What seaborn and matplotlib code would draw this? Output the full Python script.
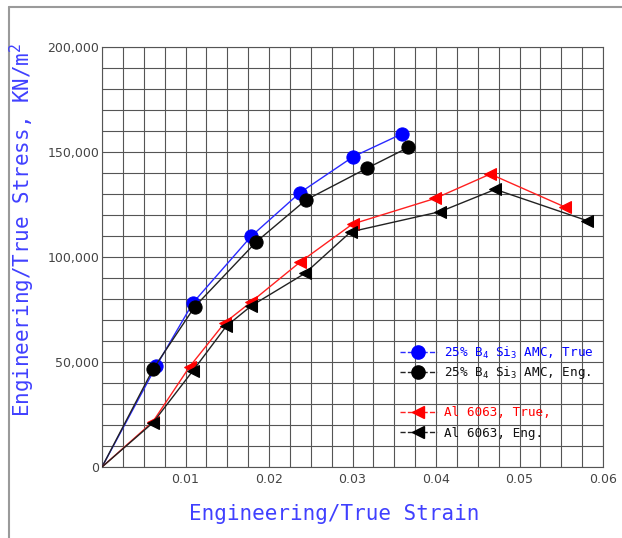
import matplotlib
matplotlib.use("Agg")
import matplotlib.pyplot as plt
import seaborn as sns
import numpy as np
from matplotlib.lines import Line2D
from matplotlib.ticker import MultipleLocator, FuncFormatter, FixedLocator

sns.set_theme(style="white")
plt.rcParams['font.family'] = ['DejaVu Sans']
plt.rcParams['mathtext.default'] = 'regular'

# Data (origin included as first point, drawn without a marker)
amc_true_x = [0, 0.0065, 0.0109, 0.0179, 0.0237, 0.0301, 0.0359]
amc_true_y = [0, 48100, 78200, 110000, 130600, 147800, 158600]
amc_eng_x = [0, 0.0061, 0.0111, 0.0185, 0.0244, 0.0317, 0.0367]
amc_eng_y = [0, 46500, 76300, 107300, 127100, 142200, 152200]
al_true_x = [0, 0.0061, 0.0105, 0.0147, 0.0178, 0.0237, 0.0300, 0.0399, 0.0465, 0.0555]
al_true_y = [0, 21600, 47800, 68700, 78400, 97500, 115700, 127900, 139500, 123700]
al_eng_x = [0, 0.0061, 0.0109, 0.0149, 0.0179, 0.0243, 0.0298, 0.0405, 0.0471, 0.0581]
al_eng_y = [0, 21100, 45900, 67100, 76800, 92200, 112000, 121600, 132200, 117300]

labels = ["25% B$_4$ Si$_3$ AMC, True", "25% B$_4$ Si$_3$ AMC, Eng.",
          "Al 6063, True,", "Al 6063, Eng."]
x_ticks = [0.01, 0.02, 0.03, 0.04, 0.05, 0.06]
x_tick_labels = ["0.01", "0.02", "0.03", "0.04", "0.05", "0.06"]

W, H = 622, 538
fig = plt.figure(figsize=(W / 100, H / 100), dpi=100)
ax = fig.add_axes([102 / W, 1 - 467 / H, (603 - 102) / W, (467 - 47) / H])

series = [
    (amc_true_x, amc_true_y, "#2a2aff", "#0000ff", "o", 9.5),
    (amc_eng_x, amc_eng_y, "#222222", "#000000", "o", 9.5),
    (al_true_x, al_true_y, "#ff2020", "#ff0000", "<", 8.5),
    (al_eng_x, al_eng_y, "#222222", "#000000", "<", 8.5),
]
for i, (xs, ys, lc, mc, mk, ms) in enumerate(series):
    sns.lineplot(x=xs, y=ys, ax=ax, sort=False, estimator=None, color=lc,
                 linewidth=1.0, marker=mk, markersize=ms, markerfacecolor=mc,
                 markeredgecolor=mc, markevery=list(range(1, len(xs))),
                 legend=False, zorder=3 + i)

ax.set_xlim(0, 0.06)
ax.set_ylim(0, 200000)
ax.xaxis.set_major_locator(FixedLocator(x_ticks))
ax.set_xticklabels(x_tick_labels)
ax.xaxis.set_minor_locator(MultipleLocator(0.0025))
ax.yaxis.set_major_locator(MultipleLocator(50000))
ax.yaxis.set_minor_locator(MultipleLocator(10000))
ax.yaxis.set_major_formatter(FuncFormatter(lambda v, p: f"{int(v):,}"))
ax.grid(True, which='both', color='#555555', linewidth=0.8)
ax.set_axisbelow(True)
ax.tick_params(which='both', length=0, labelsize=9, labelcolor='#444444')
ax.tick_params(axis='y', pad=2)
ax.tick_params(axis='x', pad=4)
for s in ax.spines.values():
    s.set_color('#555555')
    s.set_linewidth(0.8)
ax.set_xlabel("")
ax.set_ylabel("")

fig.text(334 / W, 1 - 514 / H, "Engineering/True Strain", color='#4040ff',
         fontsize=15, family='DejaVu Sans Mono', ha='center', va='center')
fig.text(22 / W, 1 - 230 / H, "Engineering/True Stress, KN/m$^2$", color='#4040ff',
         fontsize=15, family='DejaVu Sans Mono', ha='center', va='center',
         rotation=90)

# legends (two groups)
def mk_handle(lc, mc, mk, ms):
    return Line2D([], [], color=lc, ls='--', lw=1, marker=mk, ms=ms, mfc=mc, mec=mc)

leg_kw = dict(loc='center left', bbox_transform=fig.transFigure, frameon=False,
              handlelength=2.9, handletextpad=0.55, borderpad=0, borderaxespad=0,
              prop={'family': 'DejaVu Sans Mono', 'size': 9.1})

h1 = [mk_handle("#2a2aff", "#0000ff", "o", 9.5), mk_handle("#222222", "#000000", "o", 9.5)]
leg1 = ax.legend(h1, labels[:2], bbox_to_anchor=(400 / W, 1 - 363 / H),
                 labelspacing=0.3, **leg_kw)
for t, c in zip(leg1.get_texts(), ['#0000ff', '#111111']):
    t.set_color(c)
ax.add_artist(leg1)

h2 = [mk_handle("#ff2020", "#ff0000", "<", 8.5), mk_handle("#222222", "#000000", "<", 8.5)]
leg2 = ax.legend(h2, labels[2:], bbox_to_anchor=(400 / W, 1 - 423 / H),
                 labelspacing=0.6, **leg_kw)
for t, c in zip(leg2.get_texts(), ['#ff0000', '#111111']):
    t.set_color(c)

# picture border lines (top and left)
fig.add_artist(Line2D([9 / W, 1], [1 - 7 / H, 1 - 7 / H], transform=fig.transFigure,
                      color='#9a9a9a', lw=1.5))
fig.add_artist(Line2D([9 / W, 9 / W], [0, 1 - 7 / H], transform=fig.transFigure,
                      color='#9a9a9a', lw=1.5))

fig.savefig("out.png", dpi=100)
